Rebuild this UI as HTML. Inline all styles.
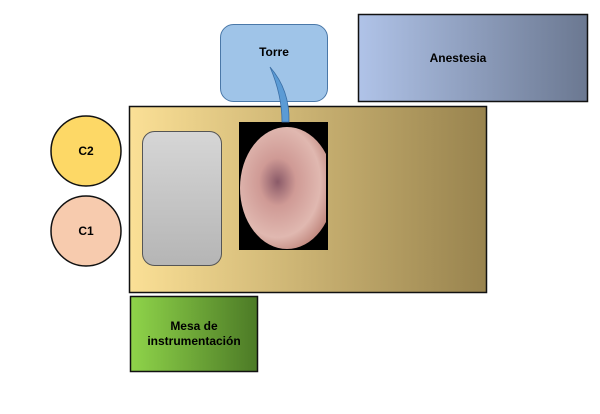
<!DOCTYPE html>
<html><head><style>
body{margin:0;background:#fff;width:600px;height:409px;overflow:hidden;font-family:"Liberation Sans",sans-serif}
</style></head><body>
<svg width="600" height="409" viewBox="0 0 600 409">
<defs>
<linearGradient id="bed" x1="0" x2="1"><stop offset="0" stop-color="#fbe096"/><stop offset="1" stop-color="#98834e"/></linearGradient>
<linearGradient id="an" x1="0" x2="1"><stop offset="0" stop-color="#b0c3e8"/><stop offset="1" stop-color="#6b7891"/></linearGradient>
<linearGradient id="gr" x1="0" x2="0" y1="0" y2="1"><stop offset="0" stop-color="#d6d6d6"/><stop offset="1" stop-color="#b5b5b5"/></linearGradient>
<linearGradient id="me" x1="0" x2="1"><stop offset="0" stop-color="#8fd44a"/><stop offset="1" stop-color="#4c7a26"/></linearGradient>
<radialGradient id="eye" cx="0.4" cy="0.45" r="0.65"><stop offset="0" stop-color="#8a5a68"/><stop offset="0.3" stop-color="#cf9a95"/><stop offset="0.7" stop-color="#e0b8b0"/><stop offset="1" stop-color="#b87a70"/></radialGradient>
<clipPath id="cp"><rect x="239" y="122" width="87" height="128"/></clipPath>
</defs>
<rect x="220.5" y="24.5" width="107" height="77" rx="13" fill="#9fc4e8" stroke="#4a78a8"/>
<text x="274" y="56" font-size="12" font-weight="bold" text-anchor="middle">Torre</text>
<rect x="358.5" y="14.5" width="229" height="87" fill="url(#an)" stroke="#111" stroke-width="1.5"/>
<text x="458" y="62" font-size="12" font-weight="bold" text-anchor="middle">Anestesia</text>
<rect x="129.5" y="106.5" width="357" height="186" fill="url(#bed)" stroke="#111" stroke-width="1.5"/>
<rect x="142.5" y="131.5" width="79" height="134" rx="12" fill="url(#gr)" stroke="#555"/>
<rect x="239" y="122" width="89" height="128" fill="#000"/>
<ellipse cx="287" cy="188" rx="47" ry="61" fill="url(#eye)" clip-path="url(#cp)"/>
<path d="M270 67 Q290 90 289 122 L282 122 Q282 95 270 67Z" fill="#5b9bd5" stroke="#3a6ea5" stroke-width="0.8"/>
<circle cx="86" cy="151" r="35" fill="#fdd866" stroke="#111" stroke-width="1.5"/>
<text x="86" y="155" font-size="12" font-weight="bold" text-anchor="middle">C2</text>
<circle cx="86" cy="231" r="35" fill="#f7cbae" stroke="#111" stroke-width="1.5"/>
<text x="86" y="235" font-size="12" font-weight="bold" text-anchor="middle">C1</text>
<rect x="130.5" y="296.5" width="127" height="75" fill="url(#me)" stroke="#111" stroke-width="1.5"/>
<text x="194" y="330" font-size="12" font-weight="bold" text-anchor="middle">Mesa de</text>
<text x="194" y="345" font-size="12" font-weight="bold" text-anchor="middle">instrumentación</text>
</svg>
</body></html>
